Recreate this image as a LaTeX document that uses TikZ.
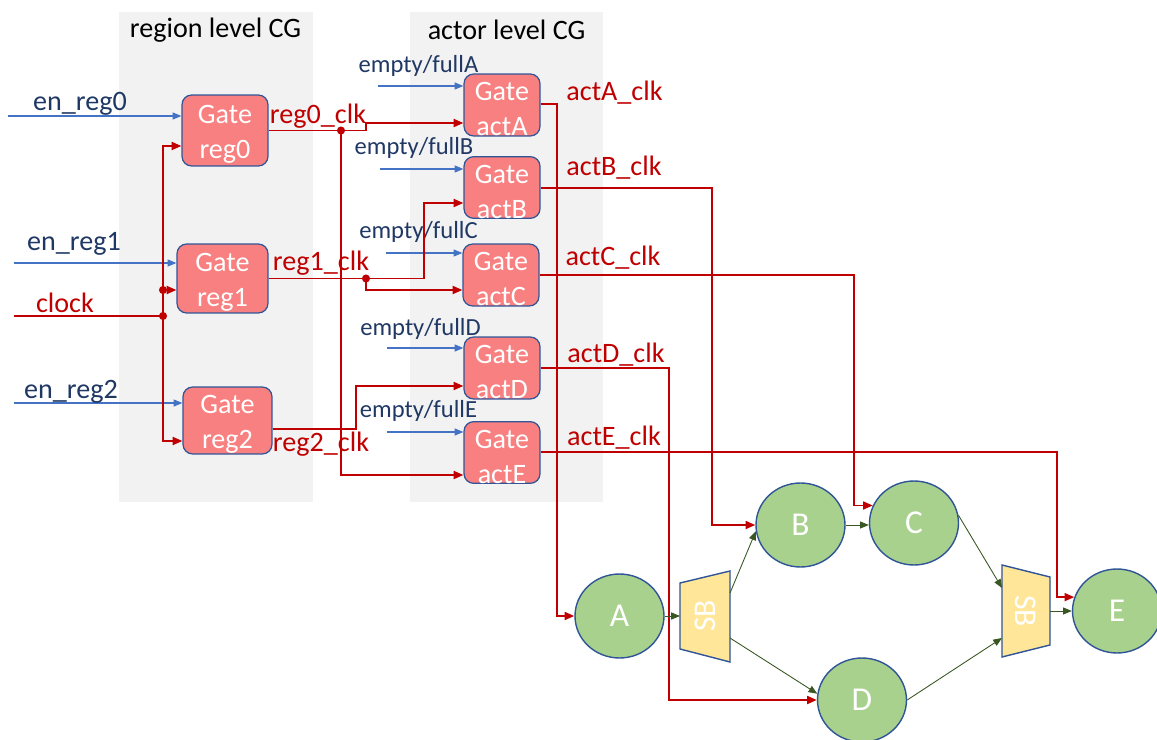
\documentclass[tikz,border=0pt]{standalone}
\usepackage{fontspec}
\setmainfont{Carlito}
\usetikzlibrary{arrows.meta,shapes.geometric}
\definecolor{cgred}{HTML}{C00000}
\definecolor{cgblue}{HTML}{4472C4}
\definecolor{cgnavy}{HTML}{203864}
\definecolor{cgborder}{HTML}{2F5597}
\definecolor{gatefill}{HTML}{F88080}
\definecolor{actorfill}{HTML}{A9D18E}
\definecolor{sbfill}{HTML}{FFE699}
\definecolor{dgreen}{HTML}{385723}
\definecolor{bggray}{HTML}{F2F2F2}
\newcommand{\gtstrut}{\rule{0pt}{15pt}}
\begin{document}
\begin{tikzpicture}[x=0.02cm,y=-0.02cm,
  bgbox/.style={fill=bggray, draw=none},
  title/.style={font=\fontsize{16}{19}\selectfont, text=black},
  gate/.style={draw=cgborder, line width=0.7pt, fill=gatefill, rounded corners=5.5pt,
    text=white, align=center, font=\fontsize{16}{20}\selectfont, inner sep=0pt},
  actor/.style={ellipse, draw=cgborder, line width=0.8pt, fill=actorfill, text=white,
    font=\fontsize{19}{22}\selectfont, minimum width=1.78cm, minimum height=1.68cm, inner sep=0pt},
  sbshape/.style={draw=cgborder, line width=0.8pt, fill=sbfill},
  sbtext/.style={text=white, font=\fontsize{18}{20}\selectfont, inner sep=0pt},
  inlbl/.style={text=cgnavy, font=\fontsize{16}{19}\selectfont, inner sep=0pt},
  eflbl/.style={text=cgnavy, font=\fontsize{14}{17}\selectfont, inner sep=0pt},
  redlbl/.style={text=cgred, font=\fontsize{16}{19}\selectfont, inner sep=0pt},
  bluein/.style={draw=cgblue, line width=0.6pt, -{Triangle[length=5pt,width=4pt]}},
  clkw/.style={draw=cgred, line width=1.1pt},
  clka/.style={clkw, -{Triangle[length=5.5pt,width=4.5pt]}},
  flow/.style={draw=dgreen, line width=0.5pt, -{Triangle[length=5pt,width=4pt]}},
  dot/.style={fill=cgred}]
\useasboundingbox (0,0) rectangle (1157,740);

% backgrounds
\fill[bgbox] (119,12) rectangle (313,502);
\fill[bgbox] (410,12) rectangle (603,502);
\node[title] (t1) at (215.5,30) {region level CG};
\node[title] (t2) at (506.5,30) {actor level CG};

% gates
\node[gate, minimum width=1.72cm, minimum height=1.42cm] (reg0) at (225,130.5) {\gtstrut Gate\\reg0};
\node[gate, minimum width=1.82cm, minimum height=1.38cm] (reg1) at (222.5,278.5) {\gtstrut Gate\\reg1};
\node[gate, minimum width=1.78cm, minimum height=1.34cm] (reg2) at (227.5,420.5) {\gtstrut Gate\\reg2};
\node[gate, minimum width=1.52cm, minimum height=1.24cm] (actA) at (502,105) {\gtstrut Gate\\actA};
\node[gate, minimum width=1.52cm, minimum height=1.22cm] (actB) at (502,187.5) {\gtstrut Gate\\actB};
\node[gate, minimum width=1.52cm, minimum height=1.24cm] (actC) at (501,275) {\gtstrut Gate\\actC};
\node[gate, minimum width=1.52cm, minimum height=1.24cm] (actD) at (502,368) {\gtstrut Gate\\actD};
\node[gate, minimum width=1.52cm, minimum height=1.22cm] (actE) at (502,452.5) {\gtstrut Gate\\actE};

% actors
\node[actor] (A) at (619.5,616) {A};
\node[actor] (B) at (800.5,525) {B};
\node[actor] (C) at (914,523) {C};
\node[actor] (D) at (862,700) {D};
\node[actor] (E) at (1117,611) {E};

% stream buffers
\draw[sbshape] (680,583) -- (730,571) -- (730,662) -- (680,649) -- cycle;
\node[sbtext, rotate=90] (sb1) at (705,616) {SB};
\draw[sbshape] (1002,565) -- (1050,577) -- (1050,645) -- (1002,657) -- cycle;
\node[sbtext, rotate=-90] (sb2) at (1026,611) {SB};
\coordinate (sb1in) at (680,616);
\coordinate (sb1oB) at (730,593);
\coordinate (sb1oD) at (730,638);
\coordinate (sb2iC) at (1002,588);
\coordinate (sb2iD) at (1002,638);
\coordinate (sb2out) at (1050,611);

% enable inputs
\coordinate (en0) at (8,116);
\coordinate (en1) at (14,263);
\coordinate (en2) at (14,403);
\draw[bluein] (en0) -- (reg0.west |- en0);
\draw[bluein] (en1) -- (reg1.west |- en1);
\draw[bluein] (en2) -- (reg2.west |- en2);
\node[inlbl] (len0) at (80,104) {en\_reg0};
\node[inlbl] (len1) at (74,244) {en\_reg1};
\node[inlbl] (len2) at (71,392) {en\_reg2};

% empty/full inputs
\coordinate (efA) at (378,86);
\coordinate (efB) at (380,169);
\coordinate (efC) at (386,253);
\coordinate (efD) at (387,348);
\coordinate (efE) at (387,432);
\draw[bluein] (efA) -- (actA.west |- efA);
\draw[bluein] (efB) -- (actB.west |- efB);
\draw[bluein] (efC) -- (actC.west |- efC);
\draw[bluein] (efD) -- (actD.west |- efD);
\draw[bluein] (efE) -- (actE.west |- efE);
\node[eflbl] (lefA) at (418.5,66) {empty/fullA};
\node[eflbl] (lefB) at (414,148) {empty/fullB};
\node[eflbl] (lefC) at (418.5,232) {empty/fullC};
\node[eflbl] (lefD) at (420.5,329) {empty/fullD};
\node[eflbl] (lefE) at (418.5,411) {empty/fullE};

% clock
\coordinate (clkin) at (14,316);
\coordinate (cj) at (163,316);
\coordinate (cj1) at (163,290);
\draw[clkw] (clkin) -- (cj);
\draw[clka] (cj) -- (163,146) -- (reg0.west |- 0,146);
\draw[clka] (cj) -- (163,441) -- (reg2.west |- 0,441);
\draw[clka] (cj1) -- (reg1.west |- cj1);
\fill[dot] (cj) circle[radius=2.3pt];
\fill[dot] (cj1) circle[radius=2.3pt];
\node[redlbl] (lclk) at (65,303) {clock};

% region clocks
\coordinate (j0) at (341,0 |- reg0.east);
\draw[clka] (reg0.east) -- (366,0 |- reg0.east) -- (366,123) -- (actA.west |- 0,123);
\draw[clka] (j0) -- (341,475) -- (actE.west |- 0,475);
\fill[dot] (j0) circle[radius=2.3pt];
\node[redlbl] (lr0) at (318,116) {reg0\_clk};

\coordinate (j1) at (366,0 |- reg1.east);
\draw[clka] (reg1.east) -- (424,0 |- reg1.east) -- (424,203) -- (actB.west |- 0,203);
\draw[clka] (j1) -- (366,290) -- (actC.west |- 0,290);
\fill[dot] (j1) circle[radius=2.3pt];
\node[redlbl] (lr1) at (321,263) {reg1\_clk};

\draw[clka] (reg2.east |- 0,429) -- (356,429) -- (356,386) -- (actD.west |- 0,386);
\node[redlbl] (lr2) at (321,444) {reg2\_clk};

% actor clocks
\draw[clka] (actA.east |- 0,104) -| (557,0 |- A.west) -- (A.west);
\draw[clka] (actB.east |- 0,188) -| (712,0 |- B.west) -- (B.west);
\draw[clka] (actC.east) -| (854,0 |- C.157) -- (C.157);
\draw[clka] (actD.east) -| (669,0 |- D.west) -- (D.west);
\draw[clka] (actE.east |- 0,452) -| (1057,0 |- E.162) -- (E.162);
\node[redlbl] (laA) at (614.5,93) {actA\_clk};
\node[redlbl] (laB) at (614,168) {actB\_clk};
\node[redlbl] (laC) at (613,258) {actC\_clk};
\node[redlbl] (laD) at (616,355) {actD\_clk};
\node[redlbl] (laE) at (614,438) {actE\_clk};

% data flow
\draw[flow] (A.east) -- (sb1in);
\draw[flow] (sb1oB) -- (B.188);
\draw[flow] (sb1oD) -- (D.172);
\draw[flow] (B.east) -- (C.west |- B.east);
\draw[flow] (C.10) -- (sb2iC);
\draw[flow] (D.east) -- (sb2iD);
\draw[flow] (sb2out) -- (E.west);
\end{tikzpicture}
\end{document}
